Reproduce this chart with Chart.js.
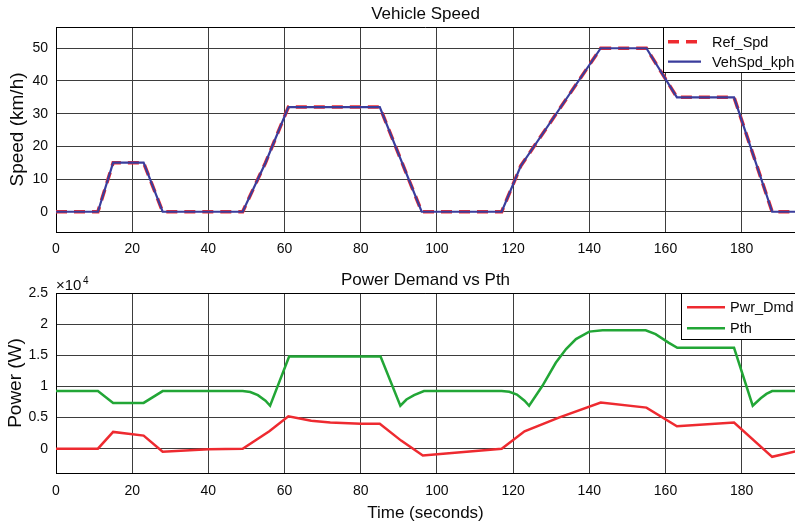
<!DOCTYPE html>
<html>
<head>
<meta charset="utf-8">
<script src="https://cdn.jsdelivr.net/npm/chart.js@4/dist/chart.umd.min.js"></script>
<style>
  html, body { margin: 0; padding: 0; background: #fff; }
  #wrap { position: relative; width: 795px; height: 527px; overflow: hidden; }
  canvas { position: absolute; left: 0; }
  #c1 { top: 0; }
  #c2 { top: 263px; }
</style>
</head>
<body>
<div id="wrap">
  <canvas id="c1" width="795" height="263"></canvas>
  <canvas id="c2" width="795" height="264"></canvas>
</div>
<script>
// ---------------- DATA ----------------
const xTicks = [0, 20, 40, 60, 80, 100, 120, 140, 160, 180];
const speedTicks = [0, 10, 20, 30, 40, 50];
const powerTicks = [0, 5000, 10000, 15000, 20000, 25000];

// Reference speed (km/h)
const refSpdTime = [0, 11, 15, 23, 28, 49, 55, 61, 85, 96, 117, 122, 143, 155, 163, 178, 188, 195];
const refSpdVal  = [0, 0, 15, 15, 0, 0, 15, 32, 32, 0, 0, 14, 50, 50, 35, 35, 0, 0];

// Vehicle speed (km/h)
const vehSpdTime = [0, 11, 15, 23, 28, 49, 55, 61, 85, 96, 117, 122, 143, 155, 163, 178, 188, 195];
const vehSpdVal  = [0, 0, 15, 15, 0, 0, 15, 32, 32, 0, 0, 14, 50, 50, 35, 35, 0, 0];

// Power demand (W)
const pwrTime = [0, 11, 15, 23, 28, 40, 49, 56, 61, 67, 72, 80, 85, 90.6, 96.3, 117, 123, 132, 143, 155, 163, 178, 188, 195];
const pwrVal  = [0, 0, 2700, 2100, -500, -100, 0, 2800, 5200, 4500, 4200, 4000, 4000, 1300, -1100, 0, 2800, 5000, 7400, 6600, 3600, 4200, -1300, -300];

// Pth (W)
const pthTime = [0, 11, 15, 23, 28, 49, 51, 53, 55, 56.2, 61.2, 85.2, 90.4, 92, 94, 96.6, 117, 119, 121, 123, 124.2,
                 127.7, 131.2, 133.9, 136.5, 140, 143.5, 150, 154.8, 157.4, 160.9, 163.1, 178, 182.9, 185, 186.5, 188, 195];
const pthVal  = [9250, 9250, 7350, 7350, 9250, 9250, 9100, 8600, 7700, 6900, 14800, 14800, 6900, 7900, 8600, 9250, 9250, 9150, 8700, 7700, 6900,
                 10100, 13800, 16000, 17600, 18800, 19000, 19000, 19000, 18400, 17000, 16200, 16200, 6900, 8100, 8800, 9250, 9250];

// ---------------- HELPERS ----------------
const toXY = (t, v) => t.map((x, i) => ({ x: x, y: v[i] }));
const FONT = "'Liberation Sans', Arial, Helvetica, sans-serif";
Chart.defaults.font.family = FONT;
Chart.defaults.color = '#000';

const GRID = '#3d3d3d';
const TXT = '#0a0a0a';

// frame (top edge) + legend box + exponent plugin
const boxPlugin = {
  id: 'boxPlugin',
  afterDatasetsDraw(chart, args, opts) {
    const ctx = chart.ctx;
    const a = chart.chartArea;
    ctx.save();
    ctx.strokeStyle = '#000';
    ctx.lineWidth = 1;
    ctx.beginPath();
    ctx.moveTo(a.left, a.top + 0.5);
    ctx.lineTo(a.right, a.top + 0.5);
    ctx.stroke();

    const L = opts.legend;
    if (L) {
      ctx.fillStyle = '#fff';
      ctx.fillRect(L.x, a.top, L.w, L.h);
      ctx.strokeStyle = '#000';
      ctx.lineWidth = 1;
      ctx.strokeRect(L.x + 0.5, a.top + 0.5, L.w, L.h);
      chart.data.datasets.forEach((ds, i) => {
        const y = a.top + L.rows[i];
        ctx.save();
        ctx.strokeStyle = ds.borderColor;
        ctx.lineWidth = ds.borderWidth;
        ctx.setLineDash(ds.borderDash || []);
        ctx.beginPath();
        ctx.moveTo(L.lx0, y);
        ctx.lineTo(L.lx1, y);
        ctx.stroke();
        ctx.restore();
        ctx.fillStyle = TXT;
        ctx.font = L.font;
        ctx.textBaseline = 'middle';
        ctx.textAlign = 'left';
        ctx.fillText(ds.label, L.tx, y + 1);
      });
    }
    if (opts.exponent) {
      ctx.fillStyle = TXT;
      ctx.textBaseline = 'middle';
      ctx.textAlign = 'left';
      ctx.font = '15px ' + FONT;
      ctx.fillText('\u00d710', a.left, a.top - 7.3);
      ctx.font = '10px ' + FONT;
      ctx.fillText('4', a.left + 27, a.top - 11.5);
    }
    ctx.restore();
  }
};

function xScale(height, pad, withTitle) {
  return {
    type: 'linear',
    position: 'bottom',
    min: 0,
    max: 194,
    afterBuildTicks: s => { s.ticks = xTicks.map(v => ({ value: v })); },
    afterFit: s => { s.height = height; },
    ticks: { font: { size: 14 }, color: TXT, padding: pad, maxRotation: 0, autoSkip: false },
    grid: { color: GRID, lineWidth: 1, drawTicks: false },
    border: { color: '#000', width: 1 },
    title: withTitle ? { display: true, text: 'Time (seconds)', font: { size: 17 }, color: TXT, padding: { top: 0, bottom: 3.3 } } : { display: false }
  };
}

// Top axis used only to carry the plot title, centred over the plot area
function titleScale(text, height, padTop) {
  return {
    type: 'linear',
    axis: 'x',
    position: 'top',
    min: 0,
    max: 194,
    afterFit: s => { s.height = height; },
    ticks: { display: false },
    grid: { display: false, drawTicks: false },
    border: { display: false },
    title: { display: true, text: text, font: { size: 17 }, color: TXT, padding: { top: padTop, bottom: 0 } }
  };
}

// ---------------- CHART 1 ----------------
new Chart(document.getElementById('c1'), {
  type: 'line',
  data: {
    datasets: [
      { label: 'Ref_Spd', data: toXY(refSpdTime, refSpdVal), borderColor: '#ee2a30', borderWidth: 3.5,
        borderDash: [11, 7], pointRadius: 0, tension: 0, fill: false, order: 1 },
      { label: 'VehSpd_kph', data: toXY(vehSpdTime, vehSpdVal), borderColor: '#3a3d9c', borderWidth: 2.2,
        pointRadius: 0, tension: 0, fill: false, order: 0 }
    ]
  },
  options: {
    responsive: false,
    animation: false,
    devicePixelRatio: 1,
    layout: { padding: 0 },
    plugins: {
      legend: { display: false },
      tooltip: { enabled: false },
      title: { display: false },
      boxPlugin: { legend: { x: 663, w: 140, h: 45, rows: [14.7, 34.7], lx0: 668, lx1: 701, tx: 712,
                             font: '14.5px ' + FONT } }
    },
    scales: {
      x: xScale(31, 8.5, false),
      xt: titleScale('Vehicle Speed', 27, 4),
      y: {
        type: 'linear', min: -6.2, max: 56.5,
        afterBuildTicks: s => { s.ticks = speedTicks.map(v => ({ value: v })); },
        afterFit: s => { s.width = 56; },
        ticks: { font: { size: 14 }, color: TXT, padding: 8 },
        grid: { color: GRID, lineWidth: 1, drawTicks: false },
        border: { color: '#000', width: 1 },
        title: { display: true, text: 'Speed (km/h)', font: { size: 19 }, color: TXT, padding: { top: 6, bottom: 0 } }
      }
    }
  },
  plugins: [boxPlugin]
});

// ---------------- CHART 2 ----------------
new Chart(document.getElementById('c2'), {
  type: 'line',
  data: {
    datasets: [
      { label: 'Pwr_Dmd', data: toXY(pwrTime, pwrVal), borderColor: '#ee2a30', borderWidth: 2.5,
        pointRadius: 0, tension: 0, fill: false },
      { label: 'Pth', data: toXY(pthTime, pthVal), borderColor: '#22a636', borderWidth: 2.5,
        pointRadius: 0, tension: 0, fill: false }
    ]
  },
  options: {
    responsive: false,
    animation: false,
    devicePixelRatio: 1,
    layout: { padding: 0 },
    plugins: {
      legend: { display: false },
      tooltip: { enabled: false },
      title: { display: false },
      boxPlugin: { exponent: true,
                   legend: { x: 681, w: 120, h: 46, rows: [14.3, 35.3], lx0: 687, lx1: 725, tx: 730,
                             font: '14.5px ' + FONT } }
    },
    scales: {
      x: xScale(54, 9.5, true),
      xt: titleScale('Power Demand vs Pth', 30, 7.3),
      y: {
        type: 'linear', min: -3900, max: 25000,
        afterBuildTicks: s => { s.ticks = powerTicks.map(v => ({ value: v })); },
        afterFit: s => { s.width = 56; },
        ticks: { font: { size: 14 }, color: TXT, padding: 8, callback: v => String(v / 10000) },
        grid: { color: GRID, lineWidth: 1, drawTicks: false },
        border: { color: '#000', width: 1 },
        title: { display: true, text: 'Power (W)', font: { size: 19 }, color: TXT, padding: { top: 4, bottom: 0 } }
      }
    }
  },
  plugins: [boxPlugin]
});
</script>
</body>
</html>
